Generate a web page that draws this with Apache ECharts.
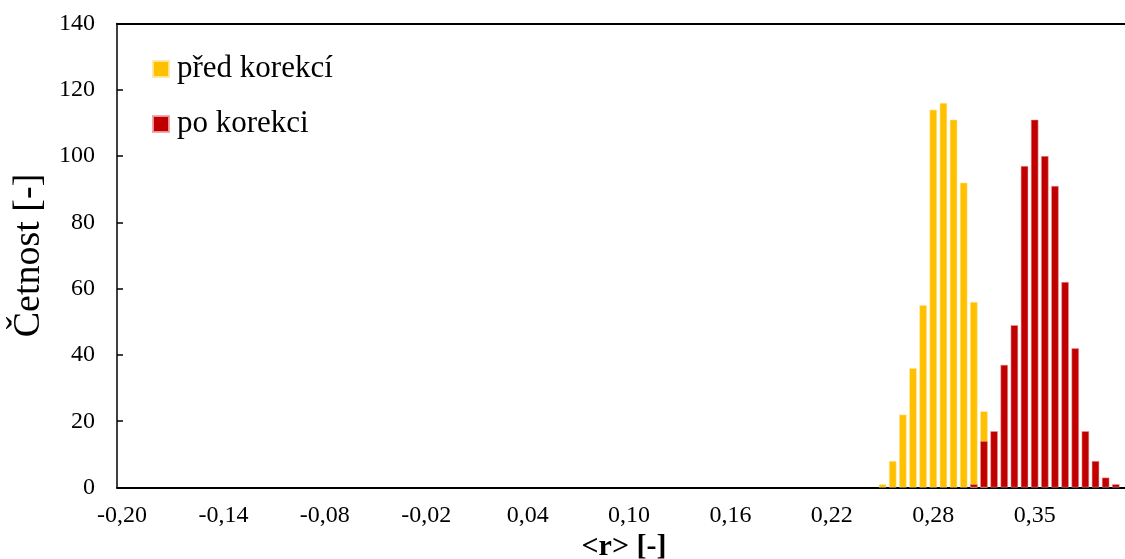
<!DOCTYPE html>
<html>
<head>
<meta charset="utf-8">
<script src="https://cdn.jsdelivr.net/npm/echarts@6/dist/echarts.min.js"></script>
<style>
html,body{margin:0;padding:0;background:#fff;}
#chart{width:1125px;height:559px;}
</style>
</head>
<body>
<div id="chart"></div>
<script>
// Histogram of <r>: 100 bins, tick labels every 10 bins
var binCount = 100;
var tickLabels = ['-0,20','-0,14','-0,08','-0,02','0,04','0,10','0,16','0,22','0,28','0,35'];
// "před korekcí" counts, starting at bin index 75
var preStart = 75;
var preKorekci = [1, 8, 22, 36, 55, 114, 116, 111, 92, 56, 23];
// "po korekci" counts, starting at bin index 84
var poStart = 84;
var poKorekci = [1, 14, 17, 37, 49, 97, 111, 100, 91, 62, 42, 17, 8, 3, 1];

var seriesNames = ['před korekcí', 'po korekci'];
var yTicks = {min: 0, max: 140, interval: 20};

function fill(start, vals) {
  var arr = [];
  for (var i = 0; i < binCount; i++) {
    var k = i - start;
    arr.push(k >= 0 && k < vals.length ? vals[k] : null);
  }
  return arr;
}
var categories = [];
for (var i = 0; i < binCount; i++) {
  categories.push(i % 10 === 0 ? tickLabels[i / 10] : '');
}

var FONT = "'Liberation Serif', 'Times New Roman', serif";
var chart = echarts.init(document.getElementById('chart'));
chart.setOption({
  animation: false,
  backgroundColor: '#ffffff',
  grid: {left: 117, right: -6, top: 23.5, bottom: 71.5, containLabel: false, outerBoundsMode: 'none'},
  legend: {
    orient: 'vertical',
    left: 152, top: 53.5,
    padding: 0,
    itemWidth: 16, itemHeight: 16, itemGap: 24,
    icon: 'rect',
    data: seriesNames,
    textStyle: {fontFamily: FONT, fontSize: 31, color: '#000', lineHeight: 31, padding: [0,0,0,3]}
  },
  xAxis: [{
    type: 'category',
    data: categories,
    boundaryGap: true,
    name: '<r> [-]',
    nameLocation: 'middle',
    nameGap: 37,
    nameTextStyle: {fontFamily: FONT, fontSize: 30, fontWeight: 'bold', color: '#000', lineHeight: 30},
    axisLine: {lineStyle: {color: '#000', width: 2}},
    axisTick: {inside: true, length: 7, interval: function (idx) { return idx % 10 === 0; }, lineStyle: {color: '#000', width: 1.5}},
    axisLabel: {interval: function (idx) { return idx % 10 === 0; }, margin: 16, fontFamily: FONT, fontSize: 24, color: '#000'},
    splitLine: {show: false}
  }, {
    type: 'category',
    position: 'top',
    data: categories,
    axisLine: {show: true, lineStyle: {color: '#000', width: 2}},
    axisTick: {show: false},
    axisLabel: {show: false}
  }],
  yAxis: {
    type: 'value',
    min: yTicks.min, max: yTicks.max, interval: yTicks.interval,
    name: 'Četnost [-]',
    nameLocation: 'middle',
    nameRotate: 90,
    nameGap: 66,
    nameTextStyle: {fontFamily: FONT, fontSize: 38, color: '#000'},
    axisLine: {show: true, lineStyle: {color: '#000', width: 1.5}},
    axisTick: {show: true, inside: true, length: 6, lineStyle: {color: '#000', width: 1.5}},
    axisLabel: {margin: 22, fontFamily: FONT, fontSize: 24, color: '#000'},
    splitLine: {show: false}
  },
  series: [{
    name: seriesNames[0],
    type: 'bar',
    data: fill(preStart, preKorekci),
    barWidth: '74%',
    barGap: '-100%',
    itemStyle: {color: '#FFC000', borderColor: 'rgba(255,230,160,0.9)', borderWidth: 0.6}
  }, {
    name: seriesNames[1],
    type: 'bar',
    data: fill(poStart, poKorekci),
    barWidth: '74%',
    barGap: '-100%',
    itemStyle: {color: '#C00000', borderColor: 'rgba(240,160,160,0.9)', borderWidth: 0.6}
  }]
});
</script>
</body>
</html>
